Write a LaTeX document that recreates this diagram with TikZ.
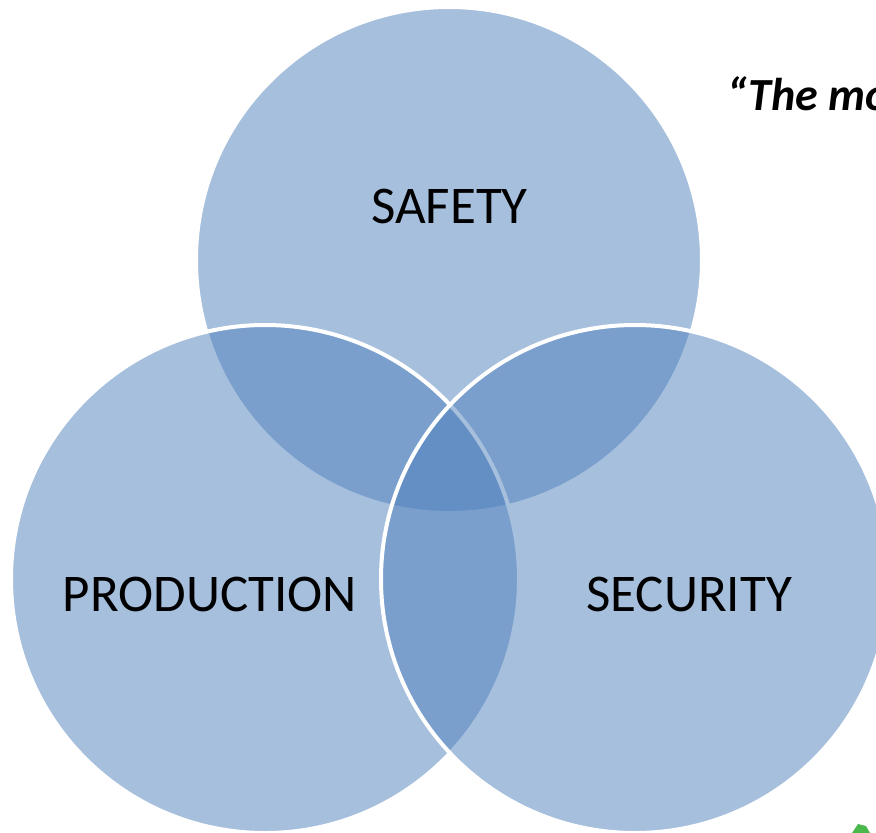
\documentclass[tikz,border=0pt]{standalone}
\usepackage{fontspec}
\setmainfont{Carlito}
\begin{document}
\begin{tikzpicture}[x=1pt,y=-1pt,
  venn/.style={fill=vennblue, fill opacity=0.5, draw=white, draw opacity=1, line width=4pt},
  lbl/.style={anchor=base, inner sep=0pt, font=\fontsize{53}{60}\selectfont, text=black}]
\definecolor{vennblue}{RGB}{79,129,189}
\useasboundingbox (0,0) rectangle (876,833);
\clip (0,0) rectangle (876,833);
\fill[white] (0,0) rectangle (876,833);
\path[venn] (449,260) circle[radius=253];
\path[venn] (265,579) circle[radius=254];
\path[venn] (635,579) circle[radius=254];
\node[lbl] (safety) at (449.5,223.3) {SAFETY};
\node[lbl] (production) at (210,611.7) {PRODUCTION};
\node[lbl] (security) at (689,611.7) {SECURITY};
\node[anchor=base west, inner sep=0pt, font=\fontsize{46}{52}\selectfont\bfseries\itshape] (quote) at (727,110.7) {“The most};
\fill[green!60!black!70] (852,833) -- (858,824) -- (866,826) -- (870,833) -- cycle;
\end{tikzpicture}
\end{document}
